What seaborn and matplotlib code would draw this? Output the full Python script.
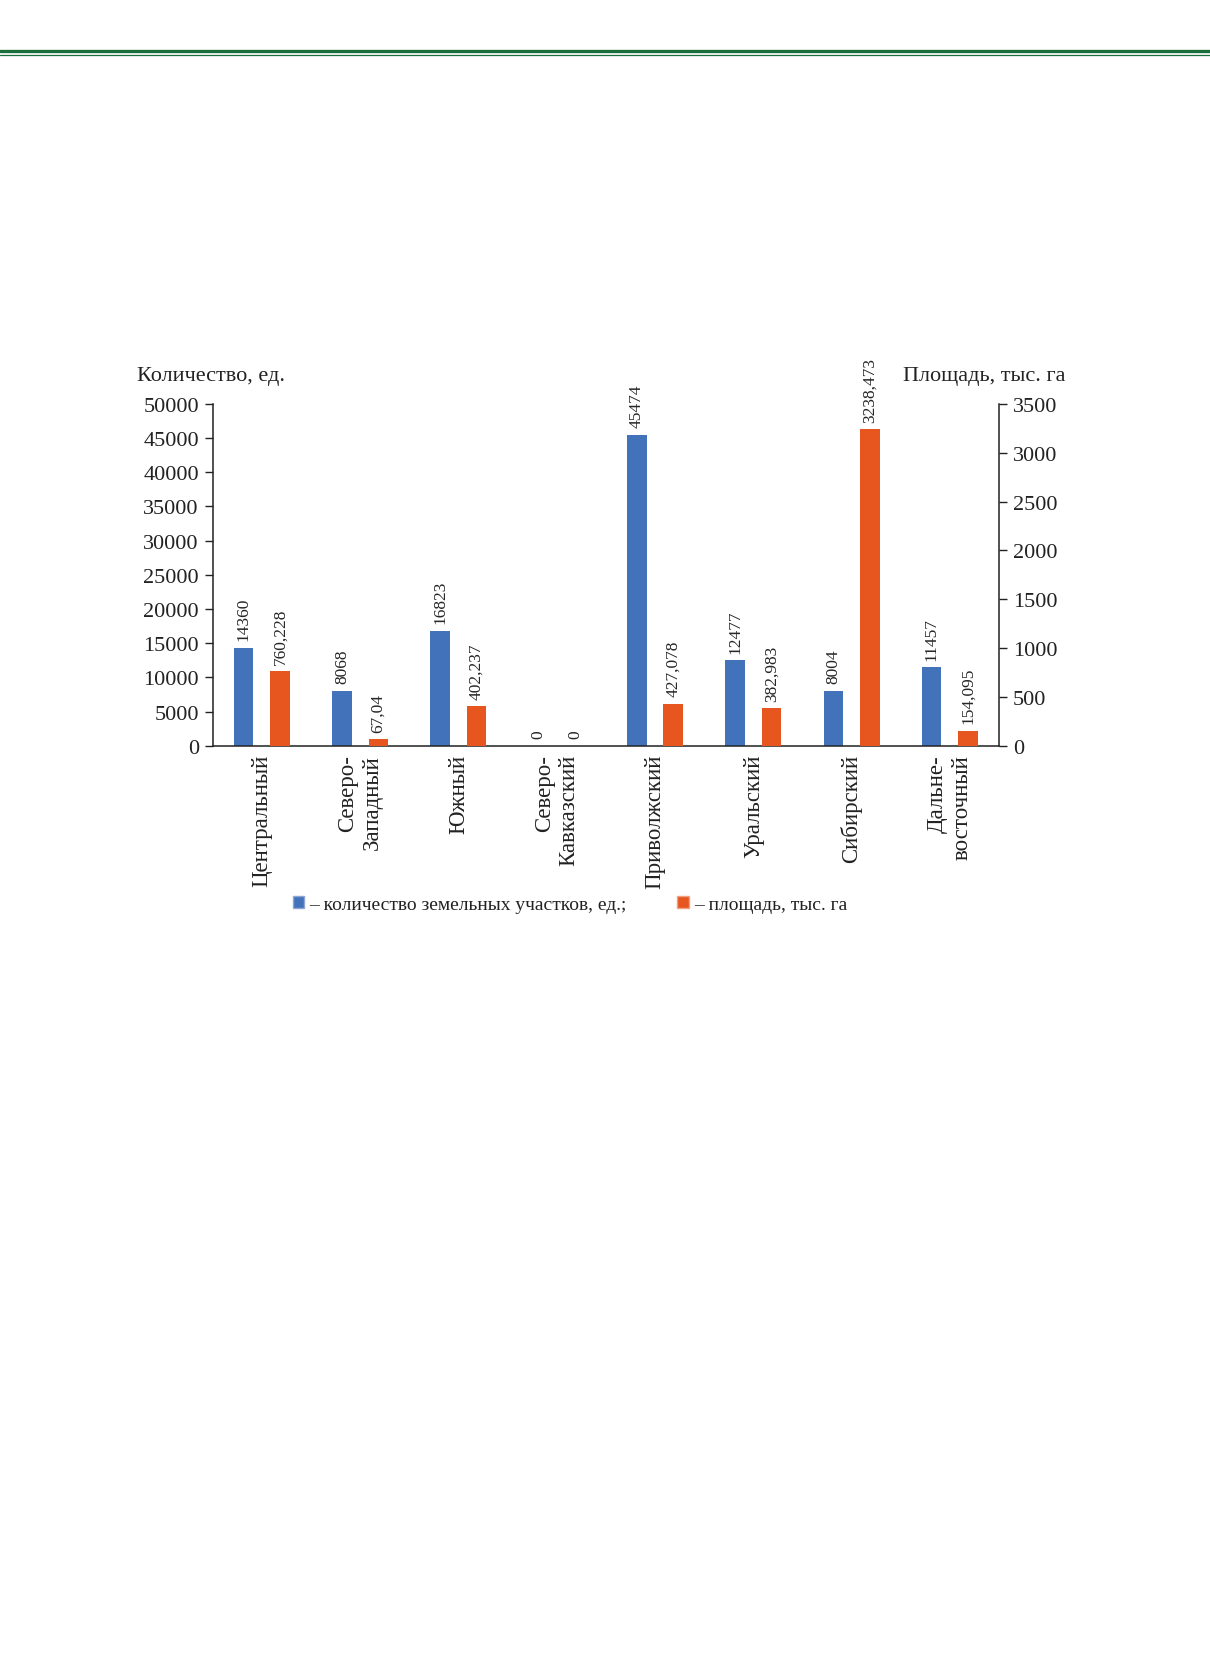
import numpy as np
import pandas as pd
import matplotlib
matplotlib.use("Agg")
import matplotlib.pyplot as plt
from matplotlib.lines import Line2D
from matplotlib.patches import Patch
import seaborn as sns

# Data
regions = ["Центральный", "Северо-\nЗападный", "Южный", "Северо-\nКавказский",
           "Приволжский", "Уральский", "Сибирский", "Дальне-\nвосточный"]
plots_count = [14360, 8068, 16823, 0, 45474, 12477, 8004, 11457]
area_ths_ha = [760.228, 67.04, 402.237, 0, 427.078, 382.983, 3238.473, 154.095]
count_labels = ["14360", "8068", "16823", "0", "45474", "12477", "8004", "11457"]
area_labels = ["760,228", "67,04", "402,237", "0", "427,078", "382,983", "3238,473", "154,095"]

left_ticks = [0, 5000, 10000, 15000, 20000, 25000, 30000, 35000, 40000, 45000, 50000]
right_ticks = [0, 500, 1000, 1500, 2000, 2500, 3000, 3500]

series_names = ["count", "area"]
blue = "#4272ba"
orange = "#e8561f"
green = "#1a6e3c"

sns.set_theme(style="white")
plt.rcParams["font.family"] = ["Liberation Serif", "DejaVu Serif"]

df_count = pd.DataFrame({"region": regions, "value": plots_count, "series": "count"})
df_area = pd.DataFrame({"region": regions, "value": area_ths_ha, "series": "area"})

fig = plt.figure(figsize=(12.1, 16.81), dpi=100)
ax1 = fig.add_axes([0.1758, 0.5558, 0.6498, 0.2033])
ax2 = ax1.twinx()

common = dict(x="region", y="value", hue="series", hue_order=series_names, order=regions,
              palette=[blue, orange], width=0.74, gap=0.46, dodge=True,
              errorbar=None, legend=False, saturation=1, linewidth=0)
sns.barplot(data=df_count, ax=ax1, **common)
sns.barplot(data=df_area, ax=ax2, **common)

# value labels above the bars
for c in ax1.containers:
    if len(c) == len(regions):
        ax1.bar_label(c, labels=count_labels, rotation=90, padding=5.5, fontsize=12.5)
        break
for c in ax2.containers:
    if len(c) == len(regions):
        ax2.bar_label(c, labels=area_labels, rotation=90, padding=5.5, fontsize=12.5)
        break

ax1.set_ylim(0, 50000)
ax2.set_ylim(0, 3500)
ax1.set_xlim(-0.5, len(regions) - 0.5)
ax1.set_yticks(left_ticks)
ax2.set_yticks(right_ticks)
ax1.set_yticklabels([str(v) for v in left_ticks], fontsize=16)
ax2.set_yticklabels([str(v) for v in right_ticks], fontsize=16)

ax1.set_xticks(range(len(regions)))
ax1.set_xticklabels(regions, rotation=90, fontsize=16.5, va="top", ha="center",
                    multialignment="right")
ax1.set_xticks(np.arange(-0.5, len(regions), 1), minor=True)
ax1.tick_params(axis="x", which="major", length=0, pad=6, colors="#222222")
ax1.tick_params(axis="x", which="minor", length=7, width=1, direction="out", color="#222222")
ax1.tick_params(axis="y", length=6, width=1, direction="out", pad=4, colors="#222222", left=True)
ax2.tick_params(axis="y", length=6, width=1, direction="out", pad=4, colors="#222222", right=True)

ax1.set_xlabel("")
ax1.set_ylabel("Количество, ед.", rotation=0, fontsize=16, ha="left", va="center", color="#222222")
ax1.yaxis.set_label_coords(-0.096, 1.082)
ax2.set_ylabel("Площадь, тыс. га", rotation=0, fontsize=16, ha="right", va="center", color="#222222")
ax2.yaxis.set_label_coords(1.0846, 1.082)

for ax in (ax1, ax2):
    ax.grid(False)
    ax.spines["top"].set_visible(False)
    for s in ("left", "right", "bottom"):
        ax.spines[s].set_color("#222222")
        ax.spines[s].set_linewidth(1.1)
ax1.spines["right"].set_visible(False)
ax2.spines["left"].set_visible(False)
ax2.spines["bottom"].set_visible(False)

# legend
handles = [Patch(facecolor=blue, edgecolor="#8fa6d4"), Patch(facecolor=orange, edgecolor="#f0a080")]
fig.legend(handles, ["– количество земельных участков, ед.;", "– площадь, тыс. га"],
           loc="center", bbox_to_anchor=(0.471, 0.4615), ncol=2, frameon=False,
           fontsize=14, handlelength=0.6, handleheight=0.6, handletextpad=0.25,
           columnspacing=2.6, labelcolor="#222222")

# green header rules
fig.add_artist(Line2D([0, 1], [1 - 52.3 / 1681] * 2, transform=fig.transFigure, color=green, lw=2.4))
fig.add_artist(Line2D([0, 1], [1 - 56.2 / 1681] * 2, transform=fig.transFigure, color=green, lw=0.9))

fig.savefig("out.png", dpi=100, facecolor="white")
